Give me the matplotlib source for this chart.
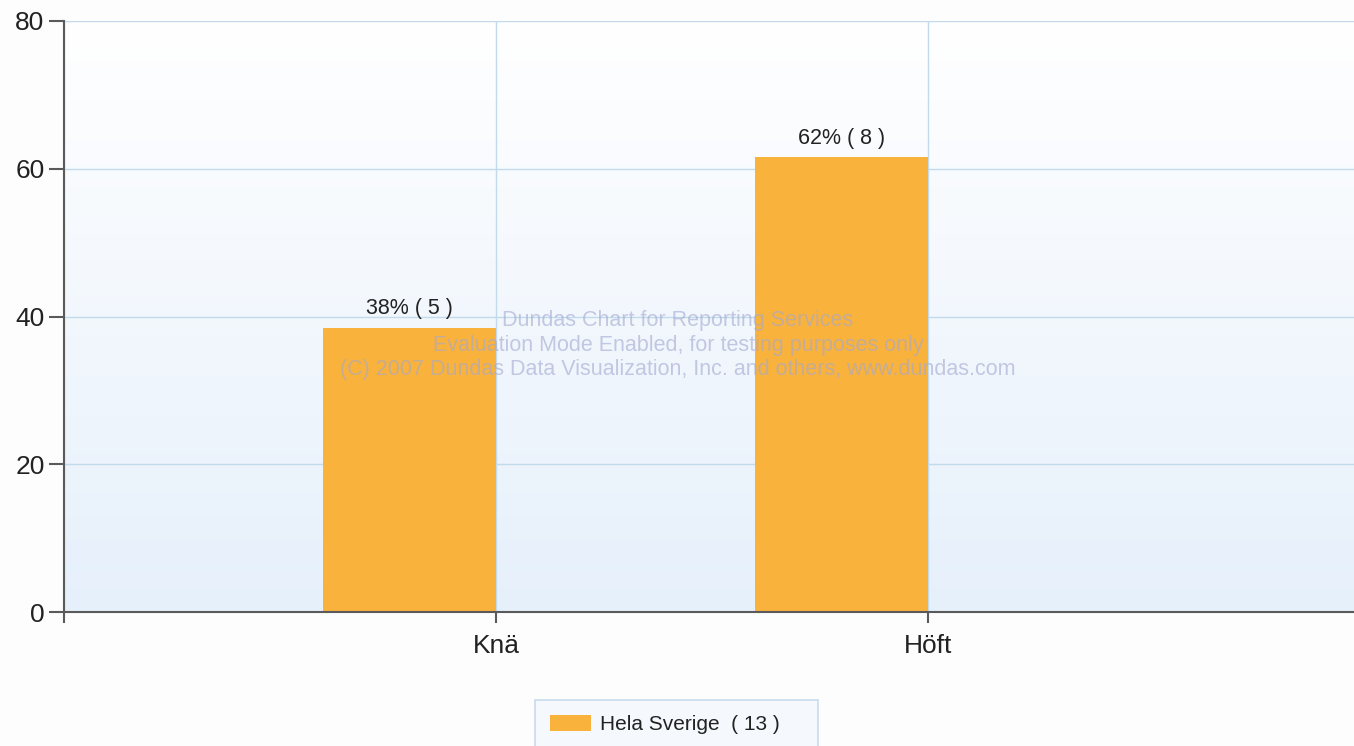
import numpy as np
import matplotlib
matplotlib.use("Agg")
import matplotlib.pyplot as plt
from matplotlib.patches import Patch

categories = ["Knä", "Höft"]
counts = [5, 8]
total = 13
percent = [100 * c / total for c in counts]
labels = ["38% ( 5 )", "62% ( 8 )"]
series_name = "Hela Sverige  ( 13 )"
yticks = [0, 20, 40, 60, 80]

bar_color = "#F9B23C"
grid_color = "#C3D9EC"
spine_color = "#5a5a5a"

plt.rcParams['font.family'] = ['Liberation Sans', 'DejaVu Sans']

fig = plt.figure(figsize=(13.54, 7.46), dpi=100, facecolor="#fdfdfd")
ax = fig.add_axes([64/1354, 1 - 612/746, 1 - 64/1354, (612 - 21)/746])

# gradient background
grad = np.linspace(0, 1, 256).reshape(-1, 1)
top = np.array([1.0, 1.0, 1.0])
bot = np.array([0xe6, 0xf0, 0xfb]) / 255
img = top[None, None, :] * (1 - grad[:, :, None]) + bot[None, None, :] * grad[:, :, None]
ax.imshow(img, extent=[0, 1, 0, 1], transform=ax.transAxes, aspect="auto", zorder=0)

x = np.arange(1, len(categories) + 1)
width = 0.4
bars = ax.bar(x - width, percent, width=width, align="edge", color=bar_color, zorder=3)
for b, lab in zip(bars, labels):
    ax.text(b.get_x() + b.get_width() / 2, b.get_height() + 1.2, lab, ha="center", va="bottom",
            fontsize=15.5, color="#222222", zorder=5)

ax.set_xlim(0, (1354 - 64) / 432)
ax.set_ylim(0, 80)
ax.set_yticks(yticks)
ax.set_yticklabels([str(t) for t in yticks], fontsize=19, color="#222222")
ax.set_xticks([0] + list(x))
ax.set_xticklabels([""] + categories, fontsize=19, color="#222222")

ax.grid(True, color=grid_color, linewidth=1, zorder=1)
ax.set_axisbelow(True)
for s in ["top", "right"]:
    ax.spines[s].set_visible(False)
for s in ["left", "bottom"]:
    ax.spines[s].set_color(spine_color)
    ax.spines[s].set_linewidth(1.5)
    ax.spines[s].set_zorder(4)
ax.tick_params(axis="y", length=11, width=1.5, color=spine_color, pad=3)
ax.tick_params(axis="x", length=8, width=1.5, color=spine_color, pad=8)

# watermark
wm = ["Dundas Chart for Reporting Services",
      "Evaluation Mode Enabled, for testing purposes only",
      "(C) 2007 Dundas Data Visualization, Inc. and others, www.dundas.com"]
for i, line in enumerate(wm):
    fig.text(678/1354, 1 - (321 + 24 * i)/746, line, ha="center", va="center",
             fontsize=15.5, color="#a2a8d2", alpha=0.6, zorder=10)

leg = fig.legend(handles=[Patch(facecolor=bar_color, edgecolor="none", label=series_name)],
                 loc="upper left", bbox_to_anchor=(535/1354, 0, 283/1354, 1 - 700/746),
                 mode="expand",
                 fontsize=15, handlelength=2.0, handleheight=0.8, handletextpad=0.4,
                 borderpad=0.7, fancybox=False, frameon=True, borderaxespad=0)
fr = leg.get_frame()
fr.set_edgecolor("#bcd3ea")
fr.set_facecolor("#f3f8fd")
fr.set_linewidth(1.2)
for t in leg.get_texts():
    t.set_color("#222222")

fig.savefig("out.png", dpi=100, facecolor=fig.get_facecolor())
